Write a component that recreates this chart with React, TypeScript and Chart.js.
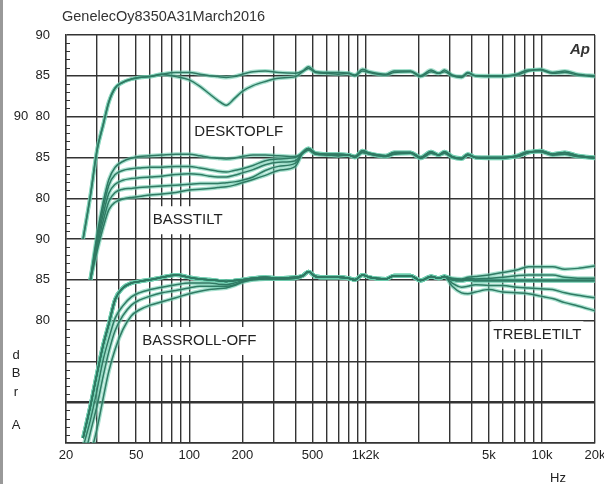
import React, { useEffect, useRef } from 'react';
import { Chart, registerables } from 'chart.js';

Chart.register(...registerables);

// Frequencies (Hz) shared by every curve
const FREQS = [25, 27.5, 30, 32.5, 35, 38, 42, 47, 52, 60, 70, 84, 100, 115, 130, 145, 162, 180, 200, 230, 270, 320, 400,
  440, 475, 520, 600, 700, 800, 870, 960, 1050, 1300, 1450, 1800, 2050, 2350, 2600, 2800, 3100, 3500, 3800, 4200, 5000,
  6000, 7200, 8400, 9800, 11500, 13500, 16000, 20000];

// High-frequency part (440 Hz .. 20 kHz), dB
const TAIL_A = [85.6, 86.1, 85.5, 85.4, 85.4, 85.3, 85.1, 85.8, 85.5, 85.2, 85.6, 85.6, 85.0, 85.7, 85.3, 85.7, 85.1, 84.9,
  85.4, 85.0, 85.0, 85.0, 85.1, 85.6, 85.8, 85.4, 85.6, 85.2, 85.0];
const TAIL_B = [85.5, 85.9, 85.4, 85.3, 85.2, 85.3, 85.0, 85.6, 85.4, 85.1, 85.4, 85.5, 84.9, 85.5, 85.3, 85.5, 85.0, 84.8,
  85.3, 85.0, 84.9, 84.9, 85.2, 85.7, 85.7, 85.3, 85.4, 85.1, 84.9];

// Group 3 mid part (440 Hz .. 2.8 kHz)
const MID3 = [85.5, 86.0, 85.4, 85.3, 85.3, 85.2, 85.0, 85.6, 85.3, 85.1, 85.5, 85.5, 84.9, 85.4, 85.2, 85.4];
// Group 3 treble tilt (3.1 kHz .. 20 kHz)
const TREBLE_P2 = [85.2, 85.1, 85.3, 85.4, 85.6, 85.9, 86.2, 86.6, 86.6, 86.6, 86.3, 86.4, 86.7];
const TREBLE_P1 = [85.1, 85.0, 85.2, 85.1, 85.2, 85.3, 85.5, 85.6, 85.6, 85.6, 85.3, 85.2, 85.2];
const TREBLE_0 = [85.0, 84.9, 85.0, 84.9, 84.9, 84.9, 84.9, 84.9, 84.9, 84.9, 84.9, 84.9, 84.9];
const TREBLE_M1 = [84.6, 84.1, 84.2, 84.4, 84.3, 84.3, 84.1, 84.0, 83.9, 83.8, 83.4, 83.1, 82.8];
const TREBLE_M2 = [84.2, 83.4, 83.3, 83.5, 83.8, 83.5, 83.4, 83.3, 83.0, 82.7, 82.2, 81.8, 81.2];

// Low-frequency parts (25 Hz .. 400 Hz), dB
const DESKTOP_FLAT = [65, 70.3, 75.9, 79.0, 81.8, 83.5, 84.2, 84.6, 84.8, 84.9, 85.2, 85.4, 85.4, 85.2, 85.0, 84.9, 84.8, 84.9, 85.2, 85.5, 85.6, 85.4, 85.3];
const DESKTOP_DIP = [65, 70.3, 75.9, 79.0, 81.8, 83.5, 84.2, 84.6, 84.8, 84.9, 85.2, 84.9, 84.5, 83.7, 82.8, 82.0, 81.4, 82.2, 83.1, 83.8, 84.3, 84.7, 84.9];

const BASS_TILT_0 = [null, 70, 75.5, 79.5, 82.3, 83.8, 84.5, 84.9, 85.1, 85.2, 85.3, 85.4, 85.4, 85.2, 85.0, 84.9, 84.8, 84.9, 85.1, 85.3, 85.3, 85.2, 85.1];
const BASS_TILT_1 = [null, 70, 75.0, 78.8, 81.6, 82.9, 83.4, 83.6, 83.7, 83.8, 83.8, 83.9, 83.9, 83.7, 83.5, 83.3, 83.2, 83.4, 83.6, 84.0, 84.6, 84.8, 85.0];
const BASS_TILT_2 = [null, 70, 74.5, 78.0, 80.6, 81.7, 82.2, 82.4, 82.5, 82.6, 82.7, 82.9, 83.0, 82.9, 82.7, 82.6, 82.6, 82.8, 83.1, 83.5, 84.1, 84.4, 84.6];
const BASS_TILT_3 = [null, 70, 74.0, 77.2, 79.6, 80.7, 81.1, 81.2, 81.3, 81.4, 81.5, 81.6, 81.7, 81.8, 81.8, 81.8, 81.9, 82.0, 82.2, 82.6, 83.4, 83.9, 84.3];
const BASS_TILT_4 = [null, 70, 73.5, 76.4, 78.6, 79.5, 79.9, 80.1, 80.2, 80.4, 80.5, 80.7, 81.0, 81.1, 81.2, 81.3, 81.4, 81.6, 81.9, 82.3, 82.8, 83.4, 83.9];

const ROLLOFF_0 = [65.6, 69.5, 73.5, 77.0, 79.6, 82.6, 84.0, 84.6, 84.8, 85.0, 85.3, 85.6, 85.3, 85.1, 85.0, 84.9, 84.8, 84.9, 85.0, 85.2, 85.3, 85.2, 85.3];
const ROLLOFF_1 = [64.5, 67.8, 71.5, 75.2, 77.8, 80.3, 81.8, 82.9, 83.4, 83.8, 84.1, 84.4, 84.6, 84.6, 84.6, 84.5, 84.4, 84.6, 84.9, 85.1, 85.2, 85.1, 85.2];
const ROLLOFF_2 = [62.5, 66.3, 69.6, 73.2, 76.2, 78.8, 80.6, 81.9, 82.5, 83.0, 83.4, 83.7, 84.0, 84.2, 84.2, 84.2, 84.2, 84.4, 84.8, 85.0, 85.1, 85.1, 85.2];
const ROLLOFF_3 = [60.5, 63.5, 66.8, 70.5, 73.8, 76.5, 78.9, 80.6, 81.3, 81.9, 82.3, 82.8, 83.3, 83.6, 83.8, 83.9, 84.0, 84.3, 84.7, 85.0, 85.1, 85.1, 85.2];

// Vertical offsets of the three stacked groups (dB subtracted to place them on the shared axis)
const GROUP_OFFSETS = [40, 50, 65];

// Axis ticks
const X_GRID = [20, 30, 40, 50, 60, 70, 80, 90, 100, 200, 300, 400, 500, 600, 700, 800, 900, 1000, 2000, 3000, 4000, 5000, 6000, 7000, 8000, 9000, 10000, 20000];
const X_LABELS = ['20', '', '', '50', '', '', '', '', '100', '200', '', '', '500', '', '', '', '', '1k2k', '', '', '', '5k', '', '', '', '', '10k', '20k'];
const Y_GRID = [0, 5, 10, 15, 20, 25, 30, 35, 40, 45, 50];
const Y_LABELS = ['', '', '', '80', '85', '90', '80', '85', '90  80', '85', '90'];

// Annotations: text, frequency, axis value
const NOTE_TEXT = ['DESKTOPLF', 'BASSTILT', 'BASSROLL-OFF', 'TREBLETILT'];
const NOTE_FREQ = [191, 98, 114, 9420];
const NOTE_VALUE = [38.1, 27.3, 12.5, 13.2];

const TITLE = 'GenelecOy8350A31March2016';
const UNIT_X = 'Hz';
const UNIT_Y = ['d', 'B', 'r', 'A'];

const FONT = "'Liberation Sans', Arial, sans-serif";

function build(head: (number | null)[], tail: number[], offset: number) {
  const full = [...head, ...tail];
  return FREQS.map((f, i) => ({ x: f, y: full[i] == null ? null : (full[i] as number) - offset }));
}

export default function App() {
  const ref = useRef<HTMLCanvasElement>(null);
  useEffect(() => {
    if (!ref.current) return;
    const curves: { x: number; y: number | null }[][] = [
      build(DESKTOP_FLAT, TAIL_A, GROUP_OFFSETS[0]),
      build(DESKTOP_DIP, TAIL_B, GROUP_OFFSETS[0]),
      build(BASS_TILT_0, TAIL_A, GROUP_OFFSETS[1]),
      build(BASS_TILT_1, TAIL_B, GROUP_OFFSETS[1]),
      build(BASS_TILT_2, TAIL_A, GROUP_OFFSETS[1]),
      build(BASS_TILT_3, TAIL_B, GROUP_OFFSETS[1]),
      build(BASS_TILT_4, TAIL_A, GROUP_OFFSETS[1]),
      build(ROLLOFF_0, [...MID3, ...TREBLE_0], GROUP_OFFSETS[2]),
      build(ROLLOFF_1, [...MID3, ...TREBLE_0], GROUP_OFFSETS[2]),
      build(ROLLOFF_2, [...MID3, ...TREBLE_0], GROUP_OFFSETS[2]),
      build(ROLLOFF_3, [...MID3, ...TREBLE_0], GROUP_OFFSETS[2]),
      build(ROLLOFF_0, [...MID3, ...TREBLE_P2], GROUP_OFFSETS[2]),
      build(ROLLOFF_0, [...MID3, ...TREBLE_P1], GROUP_OFFSETS[2]),
      build(ROLLOFF_0, [...MID3, ...TREBLE_M1], GROUP_OFFSETS[2]),
      build(ROLLOFF_0, [...MID3, ...TREBLE_M2], GROUP_OFFSETS[2]),
    ];
    // Lower index datasets are drawn last (on top), so the dark lines come first.
    const lines = curves.map((d) => ({
      data: d, borderColor: '#2f7a63', borderWidth: 1.5, pointRadius: 0,
      cubicInterpolationMode: 'monotone' as const, spanGaps: false,
    }));
    const halo = curves.map((d) => ({
      data: d, borderColor: 'rgba(110,205,175,0.6)', borderWidth: 4, pointRadius: 0,
      cubicInterpolationMode: 'monotone' as const, spanGaps: false,
    }));

    const decor = {
      id: 'decor',
      beforeDatasetsDraw(chart: any) {
        const ctx = chart.ctx;
        const xs = chart.scales.x, ys = chart.scales.y;
        ctx.save();
        ctx.strokeStyle = '#333';
        ctx.lineWidth = 1;
        for (let v = 0; v <= 50; v++) {
          if (v % 5 === 0) continue;
          const py = Math.round(ys.getPixelForValue(v)) + 0.5;
          ctx.beginPath();
          ctx.moveTo(xs.left, py);
          ctx.lineTo(xs.left + 4, py);
          ctx.stroke();
        }
        ctx.font = `15px ${FONT}`;
        ctx.textAlign = 'center';
        ctx.textBaseline = 'middle';
        NOTE_TEXT.forEach((t, i) => {
          const cx = xs.getPixelForValue(NOTE_FREQ[i]);
          const cy = ys.getPixelForValue(NOTE_VALUE[i]);
          const w = ctx.measureText(t).width + 4;
          ctx.fillStyle = '#fff';
          ctx.fillRect(cx - w / 2, cy - 14, w, 28);
          ctx.fillStyle = '#222';
          ctx.fillText(t, cx, cy);
        });
        ctx.restore();
      },
      afterDraw(chart: any) {
        const ctx = chart.ctx;
        ctx.save();
        ctx.fillStyle = '#999';
        ctx.fillRect(0, 0, 3, chart.height);
        ctx.fillStyle = '#333';
        ctx.textBaseline = 'middle';
        ctx.textAlign = 'left';
        ctx.font = `14.5px ${FONT}`;
        ctx.fillText(TITLE, 62, 17);
        ctx.textAlign = 'center';
        ctx.font = `bold italic 15px ${FONT}`;
        ctx.fillText('Ap', 580, 50);
        ctx.font = `13px ${FONT}`;
        ctx.fillStyle = '#222';
        ctx.fillText(UNIT_X, 558, 478);
        const ys = [355, 373, 392, 425];
        UNIT_Y.forEach((c, i) => ctx.fillText(c, 16, ys[i]));
        ctx.restore();
      },
    };

    const chart = new Chart(ref.current, {
      type: 'line',
      data: { datasets: [...lines, ...halo] as any },
      options: {
        animation: false,
        responsive: false,
        layout: { padding: { top: 35, right: 9, left: 0, bottom: 0 } },
        plugins: { legend: { display: false }, tooltip: { enabled: false }, title: { display: false } },
        scales: {
          x: {
            type: 'logarithmic',
            min: 20,
            max: 20000,
            afterBuildTicks: (s: any) => { s.ticks = X_GRID.map((v) => ({ value: v })); },
            afterFit: (s: any) => { s.height = 41; s.paddingLeft = 0; s.paddingRight = 0; },
            grid: { color: '#333', lineWidth: 1.4, drawTicks: false },
            border: { display: true, color: '#333', width: 1.4 },
            ticks: {
              autoSkip: false, maxRotation: 0, minRotation: 0, padding: 5, color: '#222',
              font: { family: FONT, size: 13 },
              callback: (_v: any, i: number) => X_LABELS[i],
            },
          },
          y: {
            type: 'linear',
            min: 0,
            max: 50,
            afterBuildTicks: (s: any) => { s.ticks = Y_GRID.map((v) => ({ value: v })); },
            afterFit: (s: any) => { s.width = 66; s.paddingTop = 0; s.paddingBottom = 0; },
            grid: {
              color: '#333', drawTicks: false,
              lineWidth: (c: any) => (c.tick && c.tick.value === 5 ? 2.6 : 1.4),
            },
            border: { display: true, color: '#333', width: 1.4 },
            ticks: {
              padding: 16, color: '#222', font: { family: FONT, size: 13 },
              callback: (_v: any, i: number) => Y_LABELS[i],
            },
          },
        },
      },
      plugins: [decor],
    });
    return () => chart.destroy();
  }, []);

  return (
    <div style={{ position: 'fixed', left: 0, top: 0, width: 604, height: 484, background: '#fff' }}>
      <canvas ref={ref} width={604} height={484} style={{ display: 'block' }} />
    </div>
  );
}
